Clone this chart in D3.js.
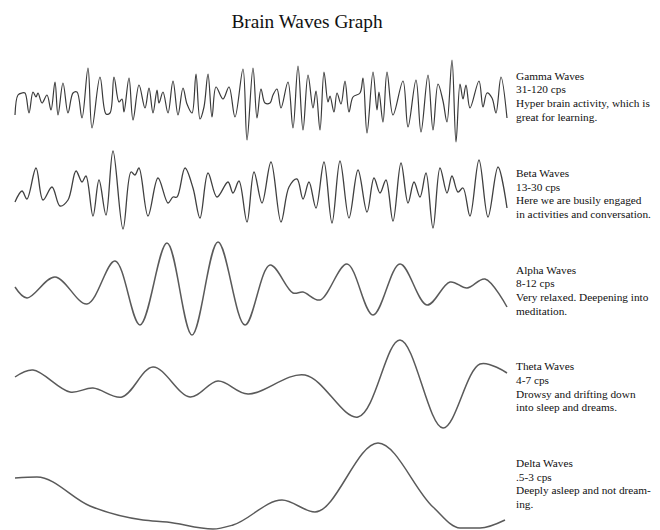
<!DOCTYPE html>
<html><head><meta charset="utf-8">
<script src="https://cdn.jsdelivr.net/npm/d3@7"></script>
<style>html,body{margin:0;padding:0;background:#fff;}
svg text{font-family:"Liberation Serif","DejaVu Serif","Times New Roman",serif;}</style>
</head><body><svg id="c" width="660" height="530"></svg>
<script>
// time units (0..492) and amplitude (arbitrary units)
const gammaT = [0,3,7,10,14,18,21,23,27,32,36,40,43,48,53,58,62,67,73,77,85,91,95,99,104,107,109,114,118,124,130,134,138,142,144,148,153,158,163,168,172,177,181,185,189,193,197,201,208,214,220,228,232,238,242,246,250,255,258,262,266,273,278,283,288,293,298,301,305,309,313,315,319,322,326,330,334,338,345,348,352,358,362,364,368,372,378,388,393,401,406,413,418,423,428,432,437,441,445,448,451,455,464,468,472,477,481,486,492];
const gammaA = [-12,8,10,10,-10,11,6,10,0,8,-7,21,-12,20,-10,10,11,-15,35,-25,26,-11,-10,26,1,4,-9,25,-17,18,-5,15,-10,13,0,11,-10,22,-12,15,-1,-10,29,-16,-4,29,-14,16,4,16,-14,34,-37,35,-15,14,0,0,8,14,-5,21,-25,37,-27,28,-5,12,-27,31,1,7,-9,10,-1,22,-9,6,10,25,-30,31,-7,11,-19,31,-12,22,-24,23,-29,28,-27,19,2,-19,43,-39,19,4,18,-5,22,-4,10,5,-10,26,-15];

const betaT = [0,7,12,21,28,37,45,53,61,67,71,78,84,91,98,108,116,120,124,133,143,153,158,162,170,178,185,193,202,213,218,224,232,239,247,256,266,274,282,288,294,301,309,317,325,334,343,352,359,365,371,378,386,393,399,405,411,418,425,432,437,443,448,455,464,473,483,492];
const betaA = [-7,4,-4,27,-5,8,-11,-5,24,13,19,-21,15,-20,44,-34,23,20,27,-21,17,-8,-2,-2,27,7,-23,22,-2,13,2,14,-27,23,-8,33,-27,8,16,-4,13,-13,33,-28,34,-23,25,-17,17,2,15,-26,32,-8,13,-2,22,-33,27,2,19,3,7,-21,35,-22,28,-13];

const alphaT = [0,12,40,72,100,125,152,177,203,230,255,278,288,305,332,358,385,412,435,452,470,492];
const alphaA = [0,-11,10,-17,26,-38,44,-48,45,-38,22,-6,-5,-13,23,-28,23,-18,5,-1,8,-20];

const thetaT = [0,18,55,78,107,138,175,203,233,290,343,385,428,465,492];
const thetaA = [7,14,-8,-4,-13,17,-13,3,-10,9,-33,44,-44,20,11];

const deltaT = [0,22,75,128,152,198,218,267,300,363,418,445,465,490];
const deltaA = [8,9,-20,-34,-36,-43,-39,-14,-26,43,-21,-42,-42,-34];

const waveNames = ["Gamma Waves","Beta Waves","Alpha Waves","Theta Waves","Delta Waves"];
const waveRanges = ["31-120 cps","13-30 cps","8-12 cps","4-7 cps",".5-3 cps"];
const waveNotes = [
  ["Hyper brain activity, which is","great for learning."],
  ["Here we are busily engaged","in activities and conversation."],
  ["Very relaxed. Deepening into","meditation."],
  ["Drowsy and drifting down","into sleep and dreams."],
  ["Deeply asleep and not dream-","ing."]
];
const title = "Brain Waves Graph";

const waves = [
  {t: gammaT, a: gammaA, center: 103, stroke: "#3a3a3a", w: 1.2, curve: d3.curveCatmullRom.alpha(0.5)},
  {t: betaT,  a: betaA,  center: 195, stroke: "#404040", w: 1.3, curve: d3.curveCatmullRom.alpha(0.5)},
  {t: alphaT, a: alphaA, center: 287, stroke: "#5a5a5a", w: 1.5, curve: d3.curveCatmullRom.alpha(0.5)},
  {t: thetaT, a: thetaA, center: 384, stroke: "#5a5a5a", w: 1.5, curve: d3.curveCatmullRom.alpha(0.5)},
  {t: deltaT, a: deltaA, center: 486, stroke: "#5a5a5a", w: 1.5, curve: d3.curveMonotoneX}
];

const svg = d3.select("#c");
const x = d3.scaleLinear().domain([0, 492]).range([15, 507]);

svg.append("text").attr("x", 307).attr("y", 28).attr("text-anchor","middle")
  .attr("font-size",19.3).attr("fill","#111").text(title);

waves.forEach((wv, i) => {
  const y = d3.scaleLinear().domain([-50, 50]).range([wv.center + 50, wv.center - 50]);
  const pts = wv.t.map((t, k) => [t, wv.a[k]]);
  const line = d3.line().x(d => x(d[0])).y(d => y(d[1])).curve(wv.curve);
  svg.append("path").attr("d", line(pts)).attr("fill","none")
    .attr("stroke", wv.stroke).attr("stroke-width", wv.w).attr("stroke-linejoin","round");

  const lines = [waveNames[i], waveRanges[i]].concat(waveNotes[i]);
  const base = [79.5, 176.7, 273.5, 370, 466.7][i];
  const g = svg.append("text").attr("font-size", 11.3).attr("fill","#111");
  lines.forEach((s, k) => {
    g.append("tspan").attr("x", 516).attr("y", base + k * 13.8).text(s);
  });
});
</script></body></html>
